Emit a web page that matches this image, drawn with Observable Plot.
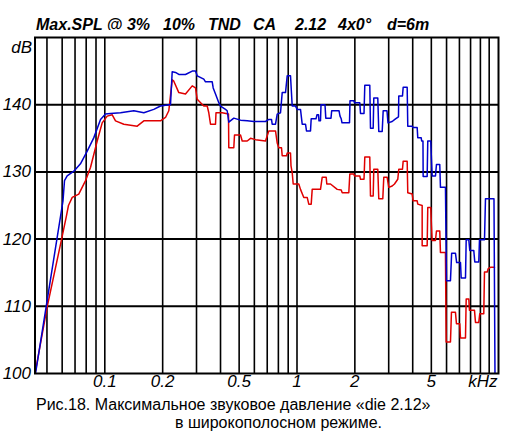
<!DOCTYPE html>
<html><head><meta charset="utf-8">
<script src="https://cdn.jsdelivr.net/npm/d3@7"></script>
<script src="https://cdn.jsdelivr.net/npm/@observablehq/plot@0.6"></script>
<style>
body{margin:0;background:#fff;width:514px;height:432px;position:relative;overflow:hidden;font-family:"Liberation Sans",Arial,sans-serif;}
#title span{position:absolute;top:15px;font:italic bold 16px/20px "Liberation Sans",Arial,sans-serif;white-space:pre;color:#000;}
#chart{position:absolute;left:0;top:30px;}
.cap{position:absolute;font:16px/18px "Liberation Sans",Arial,sans-serif;white-space:pre;color:#000;}
</style></head><body>
<div id="title"><span style="left:36px">Max.SPL @ 3%</span><span style="left:163px">10%</span><span style="left:208px">TND</span><span style="left:253px">CA</span><span style="left:295px">2.12</span><span style="left:338px">4x0°</span><span style="left:387px">d=6m</span></div>
<div id="chart"></div>
<div class="cap" style="left:36px;top:396px">Рис.18. Максимальное звуковое давление «die 2.12»</div>
<div class="cap" style="left:175px;top:414px">в широкополосном режиме.</div>
<script>
// Frequencies in kHz, levels in dB
const blueF = [0.0436,0.0606,0.0617,0.0637,0.0690,0.0747,0.0810,0.0877,0.0950,0.1008,0.1071,0.1207,0.1416,0.1596,0.1798,0.1949,0.2153,0.2197,0.2242,0.2333,0.2427,0.2629,0.2850,0.2965,0.3026,0.3274,0.3341,0.3621,0.3664,0.3767,0.3919,0.3999,0.4246,0.4333,0.4417,0.4690,0.5083,0.5507,0.5961,0.6857,0.7134,0.7368,0.7430,0.7730,0.7889,0.8207,0.8376,0.8714,0.8893,0.9251,0.9442,0.9822,1.0024,1.0428,1.0643,1.1073,1.1206,1.1756,1.1855,1.2557,1.2708,1.2939,1.3016,1.3252,1.3332,1.3986,1.4120,1.5027,1.5153,1.6543,1.6742,1.6985,1.7149,1.8758,1.8870,1.9749,1.9915,2.1223,2.1401,2.2318,2.2532,2.3920,2.4121,2.4914,2.5094,2.6325,2.6641,2.7749,2.8084,2.9389,2.9743,3.1278,3.2539,3.3730,3.3851,3.5384,3.5682,3.7434,3.7704,3.9742,4.0124,4.2195,4.2499,4.4266,4.4531,4.5231,4.5339,4.7565,4.7908,4.9659,5.0077,5.0498,5.2536,5.3168,5.5313,5.5778,5.9216,5.9931,6.2873,6.3782,6.6752,6.7719,7.090,7.150,7.528,7.591,7.832,7.926,8.315,8.415,8.828,8.902,9.452,9.566,10.591,10.719];
const blueDB = [100,125.7,128.7,129.4,130.1,131.2,133.1,135.1,137.8,138.6,138.7,138.8,139.1,138.8,139.3,139.8,140.0,140.0,144.9,144.8,144.5,144.5,145.0,145.0,144.3,143.8,143.4,143.4,142.5,141.6,140.3,139.8,139.3,139.1,137.4,138.0,137.7,137.6,137.5,137.5,137.8,137.8,137.1,137.1,138.6,138.8,141.8,141.8,144.3,144.3,139.8,139.8,139.3,139.3,137.1,137.1,136.1,136.1,137.9,137.9,138.5,138.5,137.6,137.6,140.0,140.0,138.0,138.0,139.1,139.1,138.3,137.9,137.3,137.3,140.6,140.6,140.3,140.3,138.7,138.7,142.9,142.9,136.5,136.5,141.0,141.0,136.0,136.0,139.1,139.1,137.3,137.5,137.9,138.2,141.3,141.3,142.6,142.6,136.8,136.8,136.6,136.6,135.1,135.1,134.6,134.6,129.3,129.3,134.6,134.6,131.9,129.4,129.4,131.1,131.1,127.7,127.7,113.8,113.8,117.9,117.9,116.5,116.5,114.2,114.2,119.9,119.9,118.3,118.3,116.6,116.6,119.9,119.9,126.0,126.0,100];
const redF = [0.0436,0.0502,0.0596,0.0632,0.0647,0.0677,0.0732,0.0794,0.0843,0.0913,0.0969,0.1029,0.1093,0.1137,0.1256,0.1474,0.1596,0.1949,0.2069,0.2153,0.2242,0.2286,0.2427,0.2629,0.2850,0.2965,0.3026,0.3274,0.3410,0.3476,0.3548,0.3767,0.3789,0.4082,0.4401,0.4417,0.4690,0.4730,0.5083,0.5187,0.5507,0.5730,0.6084,0.6857,0.7134,0.7730,0.7889,0.8042,0.8306,0.8376,0.8819,0.8893,0.9251,0.9307,0.9442,0.9555,1.0218,1.0428,1.0848,1.1299,1.1518,1.1855,1.1998,1.3252,1.3524,1.4188,1.4290,1.4937,1.6191,1.6985,1.7190,1.8602,1.8826,1.9749,1.9915,2.1223,2.1401,2.2318,2.2532,2.3920,2.4121,2.4914,2.5094,2.6325,2.6641,2.7949,2.8286,2.9459,3.0029,3.1278,3.2152,3.3448,3.3851,3.5384,3.5682,3.7434,3.7704,3.9742,4.0220,4.2195,4.2499,4.4799,4.4799,4.7565,4.7908,4.9659,5.0077,5.0498,5.2536,5.3168,5.5313,5.5778,5.9216,5.9716,6.2873,6.3630,6.6752,6.7557,7.031,7.090,7.528,7.591,7.832,7.898,8.385,8.486,8.828,8.934,9.372,9.452,9.762,9.881,10.156,10.656];
const redDB = [100.4,110.0,120.0,123.5,125.0,126.2,126.7,128.7,130.7,134.6,137.3,138.3,138.5,137.6,137.1,136.8,137.6,137.6,138.1,139.1,143.7,143.5,141.8,141.6,142.8,142.5,140.8,139.8,139.8,138.8,137.1,137.1,138.8,138.8,138.6,133.6,133.6,135.5,135.5,134.6,134.6,135.0,134.8,134.6,136.1,136.1,134.3,133.6,133.6,132.4,132.4,132.8,132.8,130.9,129.9,128.2,128.2,127.4,126.2,126.2,125.2,125.2,127.4,127.4,129.2,129.2,128.2,128.2,127.4,127.3,126.9,126.9,129.7,129.7,129.4,129.4,128.9,128.9,132.2,132.2,126.4,126.4,130.4,130.4,126.0,126.0,129.2,129.2,127.7,127.9,128.2,128.9,130.4,130.4,131.6,131.6,126.9,126.7,125.7,125.7,125.2,125.0,119.0,119.0,124.7,124.7,122.0,119.8,119.8,121.2,121.2,118.0,118.0,104.7,104.7,109.1,109.1,107.4,107.4,105.3,105.3,111.1,111.1,109.4,109.4,107.6,107.6,108.9,108.9,115.1,115.1,115.6,115.8,115.8];

const xTicks = [0.1, 0.2, 0.5, 1, 2, 5];
const xTickLabels = ["0.1", "0.2", "0.5", "1", "2", "5"];
const yTicks = [100, 110, 120, 130, 140];
const yTickLabels = ["100", "110", "120", "130", "140"];
const gridX = [0.05,0.06,0.07,0.08,0.09,0.1,0.2,0.3,0.4,0.5,0.6,0.7,0.8,0.9,1,2,3,4,5,6,7,8,9,10];
const gridY = [110, 120, 130, 140];
const xUnit = "kHz";
const yUnit = "dB";

const blue = blueF.map((f, i) => ({f, db: blueDB[i]}));
const red = redF.map((f, i) => ({f, db: redDB[i]}));

const chart = Plot.plot({
  width: 514, height: 366,
  marginLeft: 34.5, marginRight: 16, marginTop: 7, marginBottom: 23,
  x: {type: "log", domain: [0.04333, 11.18], axis: null},
  y: {domain: [100, 150], axis: null},
  style: {fontFamily: '"Liberation Sans", Arial, sans-serif', fontSize: "17px", fontStyle: "italic", background: "white", overflow: "visible", color: "black"},
  marks: [
    Plot.ruleX(gridX, {stroke: "#000", strokeWidth: 1.6}),
    Plot.ruleY(gridY, {stroke: "#000", strokeWidth: 2}),
    Plot.line(red, {x: "f", y: "db", stroke: "#e00000", strokeWidth: 1.5, clip: true}),
    Plot.line(blue, {x: "f", y: "db", stroke: "#0000cc", strokeWidth: 1.5, clip: true}),
    Plot.frame({stroke: "#000", strokeWidth: 2}),
    Plot.text(xTicks, {x: d => d, frameAnchor: "bottom", dy: 13, text: (d, i) => xTickLabels[i], fill: "#000"}),
    Plot.text([xUnit], {frameAnchor: "bottom-right", textAnchor: "end", dy: 13, dx: -1, fill: "#000"}),
    Plot.text(yTicks, {y: d => d, frameAnchor: "left", textAnchor: "end", dx: -4, text: (d, i) => yTickLabels[i], fill: "#000"}),
    Plot.text([yUnit], {frameAnchor: "top-left", textAnchor: "end", dx: -3, dy: 3, fill: "#000"})
  ]
});
document.getElementById("chart").appendChild(chart);
</script>
</body></html>
